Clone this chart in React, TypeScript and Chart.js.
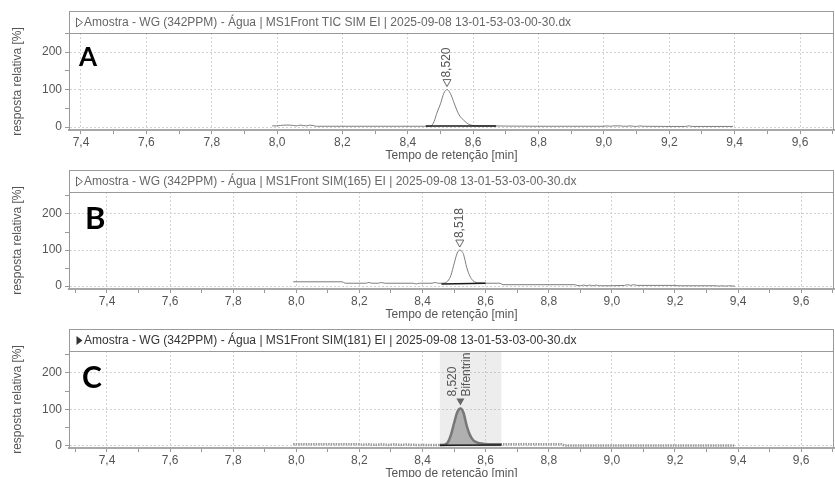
import React, { useEffect, useRef } from "react";
import { Chart, registerables } from "chart.js";

Chart.register(...registerables);

// ---------- DATA ----------
const titleA = "Amostra - WG (342PPM) - Água | MS1Front TIC SIM EI | 2025-09-08 13-01-53-03-00-30.dx";
const titleB = "Amostra - WG (342PPM) - Água | MS1Front SIM(165) EI | 2025-09-08 13-01-53-03-00-30.dx";
const titleC = "Amostra - WG (342PPM) - Água | MS1Front SIM(181) EI | 2025-09-08 13-01-53-03-00-30.dx";
const xAxisTitle = "Tempo de retenção [min]";
const yAxisTitle = "resposta relativa [%]";

// Panel A – TIC
const timeA = [7.985, 8.0, 8.01, 8.02, 8.03, 8.04, 8.05, 8.06, 8.07, 8.08, 8.09, 8.10, 8.11, 8.12, 8.2, 8.3, 8.4, 8.45, 8.466, 8.475, 8.48, 8.49, 8.50, 8.51, 8.52, 8.53, 8.54, 8.55, 8.56, 8.57, 8.58, 8.59, 8.60, 8.62, 8.65, 8.7, 8.8, 8.9, 9.0, 9.01, 9.02, 9.03, 9.04, 9.05, 9.06, 9.07, 9.08, 9.09, 9.10, 9.11, 9.12, 9.2, 9.25, 9.26, 9.27, 9.3, 9.395];
const respA = [3, 3, 4, 5, 5, 5, 4, 3, 5, 4, 3, 5, 4, 2, 2, 2, 2, 2, 2, 6, 14, 40, 62, 90, 100, 90, 68, 45, 28, 19, 11, 6, 4, 3, 3, 2.5, 2, 2, 2, 3, 2, 3, 3, 3, 2, 2, 3, 2, 1.5, 3, 2, 1.5, 1.5, 3, 1.5, 1.5, 1.5];
const baseTimeA = [8.455, 8.67];
const baseRespA = [2.5, 2.5];

// Panel B – SIM(165)
const timeB = [7.99, 8.145, 8.155, 8.22, 8.23, 8.24, 8.26, 8.27, 8.28, 8.37, 8.38, 8.39, 8.43, 8.44, 8.45, 8.46, 8.47, 8.48, 8.49, 8.50, 8.51, 8.518, 8.525, 8.53, 8.54, 8.55, 8.56, 8.57, 8.58, 8.60, 8.645, 8.655, 8.88, 8.89, 8.90, 8.91, 8.92, 8.93, 8.94, 8.95, 8.96, 9.04, 9.05, 9.06, 9.07, 9.08, 9.2, 9.21, 9.33, 9.34, 9.35, 9.36, 9.37, 9.39];
const respB = [12, 12, 8, 8, 10, 8, 8, 10, 8, 8, 6, 8, 8, 10, 8, 8, 9, 14, 30, 62, 92, 100, 96, 88, 52, 28, 15, 10, 9, 8, 8, 4, 4, 2, 1, 3, 1, 3, 1, 3, 1, 2, 4, 2, 4, 2, 2, 1, 1, 0, 1, 0, 1, 0];
const baseTimeB = [8.46, 8.60];
const baseRespB = [6, 8];

// Panel C – SIM(181)
const timeC = [7.99, 8.2, 8.21, 8.23, 8.25, 8.27, 8.29, 8.31, 8.33, 8.35, 8.38, 8.42, 8.455, 8.65, 8.84, 8.85, 9.39];
const respC = [4.5, 4.5, 3, 4, 2.5, 4, 2.5, 4, 2.5, 3.5, 2.5, 2, 2, 4.5, 4.5, 1, 1];
const peakTimeC = [8.455, 8.47, 8.48, 8.49, 8.50, 8.51, 8.52, 8.53, 8.54, 8.55, 8.56, 8.57, 8.58, 8.60, 8.62, 8.65];
const peakRespC = [2, 3, 9, 30, 62, 92, 102, 90, 55, 30, 16, 10, 7, 5, 4.5, 4.5];
const baseTimeC = [8.455, 8.65];
const baseRespC = [1.5, 2.5];
const shadeC = [8.455, 8.65];

const peakA = { t: 8.52, v: 100, labels: ["8,520"] };
const peakB = { t: 8.518, v: 100, labels: ["8,518"] };
const peakC = { t: 8.52, v: 102, labels: ["8,520", "Bifentrin"] };

// ---------- HELPERS ----------
const FONT = "'Liberation Sans', Arial, sans-serif";
const pts = (t: number[], v: number[]) => t.map((x, i) => ({ x, y: v[i] }));
const isMajorX = (v: number) => Math.round(v * 10) % 2 === 0;
const fmtX = (v: number) => v.toFixed(1).replace(".", ",");

type Spec = {
  top: number;
  letter: string;
  letterSize: number;
  letterX: number;
  letterY: number;
  title: string;
  titleFilled: boolean;
  titleColor: string;
  xMin: number;
  xMax: number;
  yMin: number;
  yMax: number;
  datasets: any[];
  peak: { t: number; v: number; labels: string[] };
  peakFilled: boolean;
  shade?: number[];
};

const traceStyle = { borderColor: "#7d7d7d", borderWidth: 1, pointRadius: 0, cubicInterpolationMode: "monotone" as const, fill: false };
const baseStyle = { borderColor: "#1a1a1a", borderWidth: 1.5, pointRadius: 0, fill: false };

const SPECS: Spec[] = [
  {
    top: -1, letter: "A", letterSize: 26, letterX: 79, letterY: 67,
    title: titleA, titleFilled: false, titleColor: "#666",
    xMin: 7.3633, xMax: 9.704, yMin: -8, yMax: 251,
    datasets: [
      { data: pts(baseTimeA, baseRespA), ...baseStyle },
      { data: pts(timeA, respA), ...traceStyle },
    ],
    peak: peakA, peakFilled: false,
  },
  {
    top: 158, letter: "B", letterSize: 31, letterX: 85, letterY: 71,
    title: titleB, titleFilled: false, titleColor: "#666",
    xMin: 7.2796, xMax: 9.704, yMin: -8, yMax: 261,
    datasets: [
      { data: pts(baseTimeB, baseRespB), ...baseStyle },
      { data: pts(timeB, respB), ...traceStyle },
    ],
    peak: peakB, peakFilled: false,
  },
  {
    top: 317, letter: "C", letterSize: 30, letterX: 82, letterY: 71,
    title: titleC, titleFilled: true, titleColor: "#333",
    xMin: 7.2796, xMax: 9.704, yMin: -6, yMax: 260,
    datasets: [
      { data: pts(baseTimeC, baseRespC), ...baseStyle },
      {
        data: pts(peakTimeC, peakRespC), borderColor: "#777", borderWidth: 2.5, pointRadius: 0,
        cubicInterpolationMode: "monotone", fill: { value: 2 }, backgroundColor: "#b0b0b0",
      },
      { data: pts(timeC, respC), borderColor: "#9a9a9a", borderWidth: 2.5, borderDash: [1.5, 1], pointRadius: 0, fill: false },
    ],
    peak: peakC, peakFilled: true, shade: shadeC,
  },
];

function makeChart(canvas: HTMLCanvasElement, spec: Spec) {
  const decor = {
    id: "decor",
    beforeDatasetsDraw(chart: any) {
      if (!spec.shade) return;
      const { ctx, chartArea: ca, scales } = chart;
      const x1 = scales.x.getPixelForValue(spec.shade[0]);
      const x2 = scales.x.getPixelForValue(spec.shade[1]);
      ctx.save();
      ctx.fillStyle = "rgba(175,175,175,0.22)";
      ctx.fillRect(x1, ca.top, x2 - x1, ca.bottom - ca.top);
      ctx.restore();
    },
    afterDatasetsDraw(chart: any) {
      const { ctx, chartArea: ca, scales } = chart;
      const xs = scales.x, ys = scales.y;
      ctx.save();
      // title box
      const boxTop = 12;
      ctx.fillStyle = "#fff";
      ctx.fillRect(ca.left, boxTop, ca.right - ca.left, ca.top - boxTop);
      ctx.strokeStyle = "#9a9a9a";
      ctx.lineWidth = 1;
      ctx.strokeRect(ca.left + 0.5, boxTop + 0.5, ca.right - ca.left - 1, ca.top - boxTop);
      ctx.beginPath();
      ctx.moveTo(ca.right - 0.5, ca.top);
      ctx.lineTo(ca.right - 0.5, ca.bottom);
      ctx.stroke();
      // title marker
      const ty = (boxTop + ca.top) / 2 + 0.5;
      ctx.beginPath();
      ctx.moveTo(ca.left + 7.5, ty - 4.5);
      ctx.lineTo(ca.left + 13.5, ty);
      ctx.lineTo(ca.left + 7.5, ty + 4.5);
      ctx.closePath();
      if (spec.titleFilled) {
        ctx.fillStyle = spec.titleColor;
        ctx.fill();
      } else {
        ctx.strokeStyle = spec.titleColor;
        ctx.stroke();
      }
      ctx.fillStyle = spec.titleColor;
      ctx.font = `12px ${FONT}`;
      ctx.textAlign = "left";
      ctx.textBaseline = "middle";
      ctx.fillText(spec.title, ca.left + 15, ty);
      // panel letter
      ctx.fillStyle = "#000";
      ctx.font = `bold ${spec.letterSize}px Lato, ${FONT}`;
      ctx.textBaseline = "alphabetic";
      ctx.fillText(spec.letter, spec.letterX, spec.letterY);
      ctx.restore();

      // peak marker and labels
      ctx.save();
      ctx.beginPath();
      ctx.rect(ca.left, ca.top, ca.right - ca.left, ca.bottom - ca.top);
      ctx.clip();
      const px = xs.getPixelForValue(spec.peak.t);
      const py = ys.getPixelForValue(spec.peak.v);
      const tip = py - 3;
      const triTop = tip - 7;
      ctx.beginPath();
      ctx.moveTo(px - 4, triTop);
      ctx.lineTo(px + 4, triTop);
      ctx.lineTo(px, tip);
      ctx.closePath();
      if (spec.peakFilled) {
        ctx.fillStyle = "#666";
        ctx.fill();
      } else {
        ctx.strokeStyle = "#666";
        ctx.lineWidth = 1;
        ctx.stroke();
      }
      ctx.fillStyle = "#555";
      ctx.font = `12px ${FONT}`;
      const n = spec.peak.labels.length;
      spec.peak.labels.forEach((lab, i) => {
        const lx = n === 1 ? px : px + (i === 0 ? -8 : 6);
        ctx.save();
        ctx.translate(lx, triTop - 2);
        ctx.rotate(-Math.PI / 2);
        ctx.textAlign = "left";
        ctx.textBaseline = "middle";
        ctx.fillText(lab, 0, 0);
        ctx.restore();
      });
      ctx.restore();
    },
  };

  return new Chart(canvas, {
    type: "line",
    data: { datasets: spec.datasets },
    options: {
      responsive: false,
      animation: false,
      devicePixelRatio: 1,
      events: [],
      parsing: false as any,
      layout: { padding: { top: 34, left: 0, right: 1, bottom: 1 } },
      plugins: { legend: { display: false }, tooltip: { enabled: false } },
      scales: {
        x: {
          type: "linear",
          min: spec.xMin,
          max: spec.xMax,
          afterFit: (s: any) => { s.height = 33; },
          ticks: {
            stepSize: 0.1,
            includeBounds: false,
            autoSkip: false,
            maxRotation: 0,
            padding: 1,
            color: "#555",
            font: { family: FONT, size: 12 },
            callback: (v: any) => (isMajorX(Number(v)) ? fmtX(Number(v)) : ""),
          },
          grid: {
            color: (c: any) => (c.tick && isMajorX(c.tick.value) ? "#d2d2d2" : "transparent"),
            tickColor: "#999",
            tickLength: 4,
            tickBorderDash: [],
          },
          border: { display: true, color: "#a8a8a8", width: 2, dash: [2, 2] },
          title: { display: true, text: xAxisTitle, color: "#555", font: { family: FONT, size: 12 }, padding: { top: 0, bottom: 0 } },
        },
        y: {
          type: "linear",
          min: spec.yMin,
          max: spec.yMax,
          afterFit: (s: any) => { s.width = 69; },
          ticks: {
            stepSize: 50,
            includeBounds: false,
            padding: 3,
            color: "#555",
            font: { family: FONT, size: 12 },
            callback: (v: any) => (Number(v) % 100 === 0 ? String(v) : ""),
          },
          grid: {
            color: (c: any) => (c.tick && c.tick.value % 100 === 0 ? "#d2d2d2" : "transparent"),
            tickColor: "#999",
            tickLength: 4,
            tickBorderDash: [],
          },
          border: { display: true, color: "#999", width: 1, dash: [2, 2] },
          title: { display: true, text: yAxisTitle, color: "#555", font: { family: FONT, size: 12 }, padding: { top: 10, bottom: 0 } },
        },
      },
    },
    plugins: [decor],
  } as any);
}

export default function App() {
  const r0 = useRef<HTMLCanvasElement>(null);
  const r1 = useRef<HTMLCanvasElement>(null);
  const r2 = useRef<HTMLCanvasElement>(null);
  const refs = [r0, r1, r2];

  useEffect(() => {
    const charts = SPECS.map((s, i) => makeChart(refs[i].current as HTMLCanvasElement, s));
    return () => charts.forEach((c) => c.destroy());
  }, []);

  return (
    <div style={{ position: "fixed", left: 0, top: 0, width: 835, height: 477, overflow: "hidden", background: "#fff" }}>
      {SPECS.map((s, i) => (
        <canvas
          key={i}
          ref={refs[i]}
          width={835}
          height={165}
          style={{ position: "absolute", left: 0, top: s.top, width: 835, height: 165 }}
        />
      ))}
    </div>
  );
}
